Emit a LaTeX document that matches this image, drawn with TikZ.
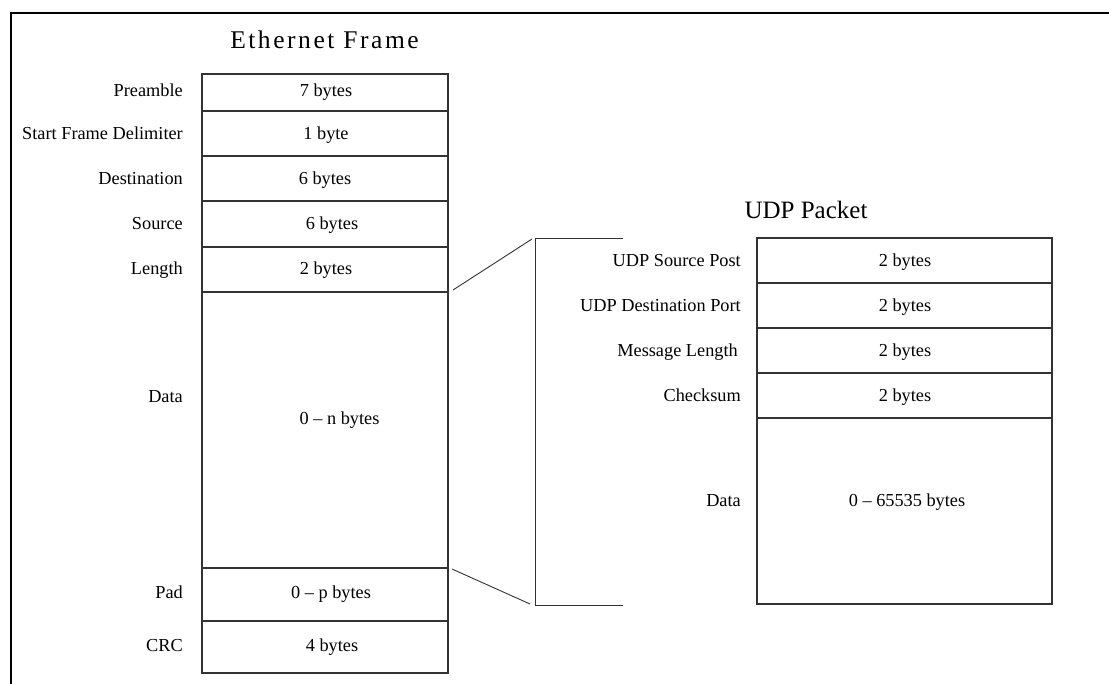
\documentclass[tikz,border=0pt]{standalone}
\usepackage{fontspec}
\setmainfont{Liberation Serif}
\begin{document}
\begin{tikzpicture}[x=1pt,y=-1pt,
  field/.style={draw=black!80, line width=1.1pt, rectangle, inner sep=0pt},
  ethf/.style={field, minimum width=246pt},
  udpf/.style={field, minimum width=295pt},
  lab/.style={inner sep=0pt, anchor=base east, font=\fontsize{18.3}{20}\selectfont},
  val/.style={inner sep=0pt, anchor=base, font=\fontsize{18.3}{20}\selectfont},
  ttl/.style={inner sep=0pt, anchor=base, font=\fontsize{25}{28}\selectfont},
  link/.style={draw=black!80, line width=0.9pt},
  frameline/.style={draw=black, line width=2.2pt}]
\useasboundingbox (0,0) rectangle (1109,684);
\draw[frameline] (1109,13) -- (11,13) -- (11,684);

% Ethernet frame
\node[ttl, font=\fontsize{25.5}{28}\selectfont] (ethttl) at (324.5,49) {\addfontfeatures{LetterSpace=10}Ethernet Frame};
\node[ethf, minimum height=37pt] (pre) at (325,92.5) {};
\node[ethf, minimum height=45pt] (sfd) at (325,133.5) {};
\node[ethf, minimum height=45pt] (dst) at (325,178.5) {};
\node[ethf, minimum height=46pt] (src) at (325,224) {};
\node[ethf, minimum height=45pt] (len) at (325,269.5) {};
\node[ethf, minimum height=276pt] (dat) at (325,430) {};
\node[ethf, minimum height=53pt] (pad) at (325,594.5) {};
\node[ethf, minimum height=52pt] (crc) at (325,647) {};

\node[lab] (lpre) at (183,97) {Preamble};
\node[lab] (lsfd) at (183,139.5) {Start Frame Delimiter};
\node[lab] (ldst) at (183,184.5) {Destination};
\node[lab] (lsrc) at (183,230) {Source};
\node[lab] (llen) at (183,274.5) {Length};
\node[lab] (ldat) at (183,402.5) {Data};
\node[lab] (lpad) at (183,598) {Pad};
\node[lab] (lcrc) at (183,651) {CRC};

\node[val] (vpre) at (326,97) {7 bytes};
\node[val] (vsfd) at (326,139.5) {1 byte};
\node[val] (vdst) at (325,184.5) {6 bytes};
\node[val] (vsrc) at (332,230) {6 bytes};
\node[val] (vlen) at (326,274.5) {2 bytes};
\node[val] (vdat) at (339.5,425) {0 -- n bytes};
\node[val] (vpad) at (331,598) {0 -- p bytes};
\node[val] (vcrc) at (332,651) {4 bytes};

% UDP packet
\node[ttl] (udpttl) at (806,219) {UDP Packet};
\node[udpf, minimum height=45pt] (usp) at (904.5,260.5) {};
\node[udpf, minimum height=45pt] (udp) at (904.5,305.5) {};
\node[udpf, minimum height=45pt] (uml) at (904.5,350.5) {};
\node[udpf, minimum height=45pt] (uck) at (904.5,395.5) {};
\node[udpf, minimum height=186pt] (udt) at (904.5,511) {};

\node[lab] (lusp) at (741,267) {UDP Source Post};
\node[lab] (ludp) at (741,312) {UDP Destination Port};
\node[lab] (luml) at (738,357) {Message Length};
\node[lab] (luck) at (741,402) {Checksum};
\node[lab] (ludt) at (741,507) {Data};

\node[val] (vusp) at (905,267) {2 bytes};
\node[val] (vudp) at (905,312) {2 bytes};
\node[val] (vuml) at (905,357) {2 bytes};
\node[val] (vuck) at (905,402) {2 bytes};
\node[val] (vudt) at (907,507) {0 -- 65535 bytes};

% bracket and zoom lines
\coordinate (b1) at (623,238);
\coordinate (b2) at (535,238);
\coordinate (b3) at (535,605);
\coordinate (b4) at (623,605);
\draw[link] (b1) -- (b2) -- (b3) -- (b4);
\coordinate (d1) at (453,290);
\coordinate (d2) at (532,239);
\coordinate (d3) at (452,569);
\coordinate (d4) at (530,604);
\draw[link] (d1) -- (d2);
\draw[link] (d3) -- (d4);
\end{tikzpicture}
\end{document}
